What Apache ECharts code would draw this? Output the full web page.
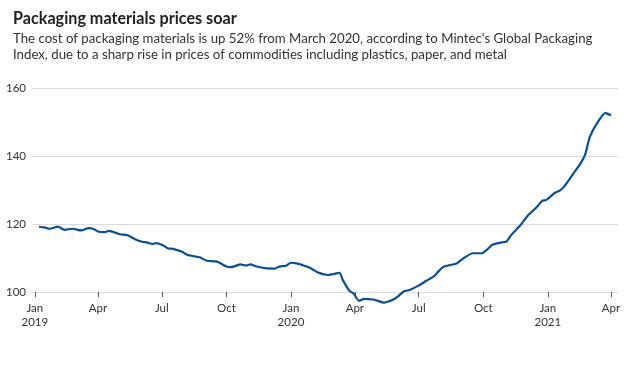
<!DOCTYPE html>
<html><head><meta charset="utf-8">
<script src="https://cdn.jsdelivr.net/npm/echarts@6/dist/echarts.min.js"></script>
<style>html,body{margin:0;padding:0;background:#fff;}#c{width:630px;height:389px;}</style>
</head><body><div id="c"></div>
<script>
const dates = ['2019-01-07','2019-01-15','2019-01-22','2019-02-03','2019-02-12','2019-02-24','2019-03-08','2019-03-19','2019-03-25','2019-04-02','2019-04-10','2019-04-17','2019-04-22','2019-05-02','2019-05-13','2019-05-26','2019-06-04','2019-06-09','2019-06-18','2019-06-23','2019-07-01','2019-07-10','2019-07-17','2019-07-29','2019-08-07','2019-08-14','2019-08-24','2019-09-03','2019-09-16','2019-09-22','2019-10-01','2019-10-07','2019-10-13','2019-10-21','2019-10-29','2019-11-04','2019-11-13','2019-11-25','2019-12-09','2019-12-16','2019-12-25','2020-01-01','2020-01-09','2020-01-19','2020-01-28','2020-02-09','2020-02-23','2020-03-10','2020-03-15','2020-03-24','2020-03-30','2020-04-07','2020-04-14','2020-04-27','2020-05-04','2020-05-12','2020-05-26','2020-06-02','2020-06-10','2020-06-18','2020-06-30','2020-07-12','2020-07-22','2020-07-29','2020-08-05','2020-08-14','2020-08-24','2020-09-02','2020-09-16','2020-09-29','2020-10-06','2020-10-14','2020-10-25','2020-11-03','2020-11-10','2020-11-22','2020-12-04','2020-12-16','2020-12-24','2020-12-30','2021-01-11','2021-01-18','2021-01-25','2021-02-06','2021-02-16','2021-02-23','2021-03-02','2021-03-12','2021-03-24','2021-04-01'];
const values = [119.2,119.0,118.6,119.2,118.3,118.6,118.1,118.8,118.6,117.7,117.6,118.0,117.7,117.0,116.7,115.3,114.7,114.6,114.1,114.4,113.9,112.8,112.7,111.9,110.9,110.6,110.2,109.2,109.0,108.5,107.5,107.3,107.6,108.1,107.8,108.1,107.5,107.0,106.9,107.5,107.7,108.6,108.4,107.8,107.1,105.7,105.0,105.6,103.5,100.4,99.6,97.4,98.0,97.8,97.4,96.9,97.8,98.8,100.2,100.6,101.8,103.3,104.5,106.0,107.4,107.9,108.4,109.8,111.4,111.4,112.4,113.9,114.5,114.8,116.8,119.4,122.6,124.9,126.8,127.1,129.2,129.8,131.2,134.7,137.6,140.3,145.7,149.6,152.7,151.9];
const tickDates = ['2019-01-01','2019-04-01','2019-07-01','2019-10-01','2020-01-01','2020-04-01','2020-07-01','2020-10-01','2021-01-01','2021-04-01'];
const tickLabels = ['Jan\n2019','Apr','Jul','Oct','Jan\n2020','Apr','Jul','Oct','Jan\n2021','Apr'];
const yTicks = [100,120,140,160];
const titleText = 'Packaging materials prices soar';
const subLines = ["The cost of packaging materials is up 52% from March 2020, according to Mintec's Global Packaging", "Index, due to a sharp rise in prices of commodities including plastics, paper, and metal"];

function ts(s){const p=s.split('-').map(Number);return Date.UTC(p[0],p[1]-1,p[2]);}
// fit font sizes to the reference's text widths
const cv=document.createElement('canvas').getContext('2d');
function fit(text,weight,target){cv.font=weight+' 100px Lato';return 100*target/cv.measureText(text).width;}
const titleSize = Math.min(17, fit(titleText,'bold',224));
const subSize = Math.min(14, fit(subLines[0],'normal',580));

const tickTs = tickDates.map(ts);
const chart = echarts.init(document.getElementById('c'), null, {renderer:'canvas'});
chart.setOption({
  animation:false,
  backgroundColor:'#fff',
  title:{
    text:titleText, subtext:subLines.join('\n'), left:8, top:6, itemGap:3,
    textStyle:{fontFamily:'Lato',fontWeight:'bold',fontSize:titleSize,color:'#222'},
    subtextStyle:{fontFamily:'Lato',fontSize:subSize,color:'#333',lineHeight:16.5}
  },
  grid:{left:32,right:12,top:88,bottom:97,containLabel:false},
  xAxis:{
    type:'value',
    min:ts('2018-12-28'), max:ts('2021-04-11'),
    axisLine:{show:true,lineStyle:{color:'#dcdcdc',width:1}},
    axisTick:{show:true,customValues:tickTs,length:5,lineStyle:{color:'#555'}},
    splitLine:{show:false},
    axisLabel:{
      customValues:tickTs, margin:9, color:'#333', fontFamily:'Lato', fontSize:11.5, lineHeight:14,
      formatter:function(v){const i=tickTs.indexOf(v);return i>=0?tickLabels[i]:'';}
    }
  },
  yAxis:{
    type:'value', min:yTicks[0], max:yTicks[yTicks.length-1], interval:20,
    axisLine:{show:false}, axisTick:{show:false},
    splitLine:{lineStyle:{color:'#dcdcdc',width:1}},
    axisLabel:{margin:6,color:'#333',fontFamily:'Lato',fontSize:11.5}
  },
  series:[{
    type:'line', showSymbol:false, clip:false, smooth:0.2,
    data:dates.map((d,i)=>[ts(d),values[i]]),
    lineStyle:{color:'#0b4f93',width:2.2}
  }]
});
</script></body></html>
